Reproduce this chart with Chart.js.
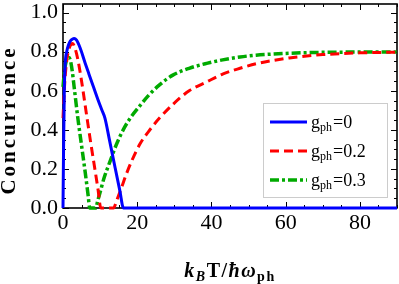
<!DOCTYPE html>
<html>
<head>
<meta charset="utf-8">
<script src="https://cdn.jsdelivr.net/npm/chart.js@4/dist/chart.umd.min.js"></script>
<style>
  html, body { margin: 0; padding: 0; background: #fff; }
  canvas { display: block; }
</style>
</head>
<body>
<canvas id="conc-chart" width="399" height="284"></canvas>
<script>
// values
const gLabels = ['0', '0.2', '0.3'];

const tBlue = [0, 0.15, 0.35, 0.6, 1.0, 1.5, 2.0, 2.6, 3.0, 3.6, 4.6, 6, 7, 8.2, 9.5, 10.5, 11.3, 12.5, 14, 15.3, 16.3, 30, 60, 90];
const cBlue = [0, 0.3, 0.6, 0.74, 0.8, 0.835, 0.855, 0.865, 0.867, 0.86, 0.82, 0.74, 0.685, 0.62, 0.55, 0.5, 0.46, 0.35, 0.21, 0.09, 0, 0, 0, 0];

const tRed = [0, 0.4, 0.8, 1.2, 1.7, 2.2, 2.6, 3.2, 4, 5, 6.4, 7.5, 8.5, 9.4, 10.2, 12, 13.6, 14.5, 15.5, 17, 18.5, 20.8, 23, 26, 29.6, 34, 38.7, 43, 47.7, 52, 56.6, 61, 65.7, 70, 74.7, 80, 85, 90];
const cRed = [0.46, 0.62, 0.72, 0.78, 0.82, 0.838, 0.842, 0.82, 0.76, 0.65, 0.47, 0.33, 0.21, 0.1, 0, 0, 0, 0.04, 0.09, 0.17, 0.24, 0.33, 0.39, 0.46, 0.53, 0.6, 0.645, 0.685, 0.715, 0.738, 0.755, 0.768, 0.778, 0.785, 0.79, 0.794, 0.796, 0.797];

const tGreen = [0, 0.4, 0.8, 1.2, 1.6, 2.0, 2.5, 3, 4, 5, 6, 6.8, 7.2, 8.8, 9.4, 10, 11, 12.7, 14.5, 16.5, 18.5, 20.8, 23, 26, 29.6, 34, 38.7, 43, 47.7, 52, 56.6, 61, 65.7, 72, 80, 90];
const cGreen = [0.62, 0.7, 0.745, 0.765, 0.77, 0.755, 0.7, 0.62, 0.46, 0.32, 0.18, 0.06, 0, 0, 0.04, 0.08, 0.15, 0.24, 0.33, 0.41, 0.47, 0.525, 0.575, 0.63, 0.68, 0.715, 0.74, 0.758, 0.773, 0.782, 0.788, 0.792, 0.795, 0.797, 0.798, 0.798];

const xTicks = [0, 20, 40, 60, 80];
const yTicks = [0, 0.2, 0.4, 0.6, 0.8, 1.0];

const SERIF = '"Liberation Serif", "DejaVu Serif", serif';

function pts(ts, cs) {
    return ts.map((t, i) => ({ x: t, y: cs[i] }));
}

// Mathematica-style frame with inward ticks on all four sides
const framePlugin = {
    id: 'frame',
    beforeDatasetsDraw(chart) {
        const ctx = chart.ctx;
        const a = chart.chartArea;
        const xs = chart.scales.x, ys = chart.scales.y;
        ctx.save();
        ctx.strokeStyle = '#000';
        ctx.lineWidth = 1;
        ctx.beginPath();
        for (let v = 0; v <= 90.001; v += 5) {
            const px = Math.round(xs.getPixelForValue(v)) + 0.5;
            const len = (v % 20 === 0) ? 6 : 3;
            ctx.moveTo(px, a.bottom); ctx.lineTo(px, a.bottom - len);
            ctx.moveTo(px, a.top); ctx.lineTo(px, a.top + len);
        }
        for (let k = 0; k <= 20; k++) {
            const v = k * 0.05;
            const py = Math.round(ys.getPixelForValue(v)) + 0.5;
            const len = (k % 4 === 0) ? 6 : 3;
            ctx.moveTo(a.left, py); ctx.lineTo(a.left + len, py);
            ctx.moveTo(a.right, py); ctx.lineTo(a.right - len, py);
        }
        ctx.stroke();
        ctx.lineWidth = 1.6;
        ctx.strokeRect(a.left, a.top, a.right - a.left, a.bottom - a.top);
        ctx.restore();
    },
    afterDraw(chart) {
        const ctx = chart.ctx;
        const a = chart.chartArea;
        ctx.save();
        ctx.fillStyle = '#000';

        // y title
        ctx.save();
        ctx.translate(10, 120);
        ctx.rotate(-Math.PI / 2);
        ctx.font = 'bold 21px ' + SERIF;
        ctx.letterSpacing = '3px';
        ctx.textAlign = 'center';
        ctx.textBaseline = 'middle';
        ctx.fillText('Concurrence', 0, 0);
        ctx.restore();

        // x title: k_B T / ħ ω_ph
        const parts = [
            { t: 'k', f: 'italic bold 20px ', dy: 0 },
            { t: 'B', f: 'italic bold 14px ', dy: 4 },
            { t: 'T', f: 'bold 20px ', dy: 0 },
            { t: '/', f: 'bold 20px ', dy: 0 },
            { t: 'ħ', f: 'italic bold 20px ', dy: 0 },
            { t: 'ω', f: 'italic bold 20px ', dy: 0 },
            { t: 'ph', f: 'bold 14px ', dy: 4 }
        ];
        ctx.letterSpacing = '1.5px';
        let total = 0;
        parts.forEach(p => { ctx.font = p.f + SERIF; p.w = ctx.measureText(p.t).width; total += p.w; });
        let cx = (a.left + a.right) / 2 - total / 2;
        ctx.textBaseline = 'alphabetic';
        ctx.textAlign = 'left';
        parts.forEach(p => {
            ctx.font = p.f + SERIF;
            ctx.fillText(p.t, cx, 277 + p.dy);
            cx += p.w;
        });
        ctx.letterSpacing = '0px';

        // legend box
        const bx = 263, by = 103, bw = 124, bh = 94;
        ctx.fillStyle = '#fff';
        ctx.fillRect(bx, by, bw, bh);
        ctx.strokeStyle = '#cccccc';
        ctx.lineWidth = 1;
        ctx.strokeRect(bx + 0.5, by + 0.5, bw, bh);
        chart.data.datasets.forEach((ds, i) => {
            const ly = 122 + 29 * i;
            ctx.strokeStyle = ds.borderColor;
            ctx.lineWidth = ds.borderWidth;
            ctx.setLineDash(ds.legendDash);
            ctx.beginPath();
            ctx.moveTo(270, ly);
            ctx.lineTo(307, ly);
            ctx.stroke();
            ctx.setLineDash([]);
            ctx.fillStyle = '#000';
            let tx = 311;
            const base = ly + 6;
            ctx.font = '18px ' + SERIF;
            ctx.fillText('g', tx, base);
            tx += ctx.measureText('g').width;
            ctx.font = '12px ' + SERIF;
            ctx.fillText('ph', tx, base + 3);
            tx += ctx.measureText('ph').width + 1;
            ctx.font = '18px ' + SERIF;
            ctx.fillText('=' + gLabels[i], tx, base);
        });
        ctx.restore();
    }
};

function initChart() {
    const ctx = document.getElementById('conc-chart').getContext('2d');
    new Chart(ctx, {
        type: 'line',
        data: {
            datasets: [
                {
                    label: 'g=' + gLabels[0],
                    data: pts(tBlue, cBlue),
                    borderColor: '#0000ff',
                    borderWidth: 3,
                    legendDash: []
                },
                {
                    label: 'g=' + gLabels[1],
                    data: pts(tRed, cRed),
                    borderColor: '#ff0000',
                    borderWidth: 3,
                    borderDash: [9, 5],
                    legendDash: [9, 5]
                },
                {
                    label: 'g=' + gLabels[2],
                    data: pts(tGreen, cGreen),
                    borderColor: '#00aa00',
                    borderWidth: 3.5,
                    borderDash: [9, 3, 3, 3],
                    legendDash: [9, 3, 3, 3]
                }
            ]
        },
        options: {
            responsive: false,
            animation: false,
            layout: { padding: { top: 4, right: 2, left: 0, bottom: 0 } },
            elements: {
                point: { radius: 0 },
                line: { cubicInterpolationMode: 'monotone', fill: false }
            },
            datasets: { line: { clip: 4 } },
            plugins: {
                legend: { display: false },
                tooltip: { enabled: false }
            },
            scales: {
                x: {
                    type: 'linear',
                    min: 0,
                    max: 90,
                    grid: { display: false, drawTicks: false },
                    border: { display: false },
                    afterBuildTicks: s => { s.ticks = xTicks.map(v => ({ value: v })); },
                    afterFit: s => {
                        s.height = 76;
                        s.paddingLeft = 0;
                        s.paddingRight = 0;
                    },
                    ticks: {
                        color: '#000',
                        padding: 2,
                        maxRotation: 0,
                        font: { family: SERIF, size: 22 }
                    }
                },
                y: {
                    min: 0,
                    max: 1.044,
                    grid: { display: false, drawTicks: false },
                    border: { display: false },
                    afterBuildTicks: s => { s.ticks = yTicks.map(v => ({ value: v })); },
                    afterFit: s => {
                        s.width = 63;
                        s.paddingTop = 0;
                        s.paddingBottom = 0;
                    },
                    ticks: {
                        color: '#000',
                        padding: 5,
                        font: { family: SERIF, size: 22 },
                        callback: v => v.toFixed(1)
                    }
                }
            }
        },
        plugins: [framePlugin]
    });
}

document.addEventListener('DOMContentLoaded', initChart);
</script>
</body>
</html>
